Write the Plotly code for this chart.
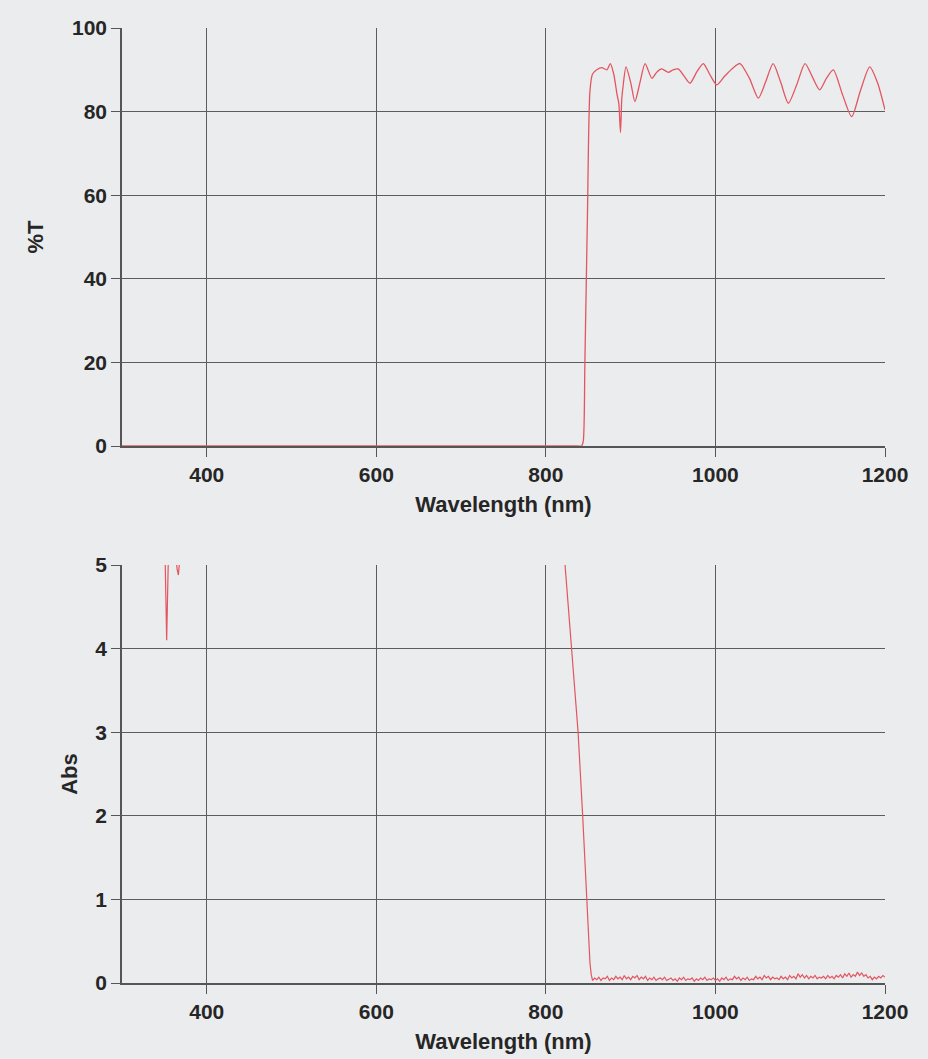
import plotly.graph_objects as go

# ---- Top panel: %T vs wavelength ----
wl_T = [300, 500, 700, 800, 830, 838, 842, 844, 846, 849, 852, 855, 860, 866, 872, 876, 880, 884, 886, 888, 889.5,
        891, 894.5, 900, 905, 911, 917, 925, 931, 936.6, 944.5, 950, 956, 963, 970, 978,
        985.7, 993, 1001.5, 1011, 1021, 1029, 1040, 1050.6, 1059, 1068, 1077, 1086, 1096,
        1105.7, 1115, 1123, 1131, 1139, 1150, 1160.7, 1171, 1182, 1191, 1200]
pct_T = [0, 0, 0, 0, 0, 0, 0, 1, 20, 55, 85, 89, 90, 90.5, 90, 91.5, 89, 84, 82, 75, 83,
         86, 90.7, 87, 82.4, 87, 91.5, 88, 89.5, 90.2, 89.4, 90, 90.2, 88.5, 86.8, 89.5,
         91.5, 89, 86.4, 88.5, 90.5, 91.5, 88, 83.2, 87, 91.5, 87, 82, 86.5,
         91.5, 88, 85.2, 88, 90, 84, 78.8, 85, 90.7, 87, 80.4]

# ---- Bottom panel: Abs vs wavelength (values above 5 are off scale) ----
wl_A_edge = [300, 348, 351, 352.7, 354.5, 357, 362, 365, 366.5, 368, 371, 820, 822.6, 830.5,
             838, 843.4, 848, 852, 853.5]
abs_edge = [6, 6, 5.0, 4.1, 5.0, 6, 5.3, 4.95, 4.88, 5.05, 6, 6, 5.0, 4.0,
            3.0, 2.0, 1.0, 0.24, 0.1]
# baseline noise read every 2.5 nm from 855 nm to 1200 nm
abs_baseline = [0.03, 0.06, 0.04, 0.07, 0.03, 0.06, 0.05, 0.08, 0.03, 0.06, 0.04, 0.08, 0.05, 0.07,
                0.04, 0.09, 0.05, 0.07, 0.04, 0.08, 0.06, 0.09, 0.04, 0.07, 0.05, 0.08, 0.03, 0.06,
                0.04, 0.07, 0.03, 0.05, 0.06, 0.04, 0.07, 0.03, 0.05, 0.06, 0.03, 0.05, 0.02, 0.06,
                0.04, 0.07, 0.03, 0.05, 0.04, 0.06, 0.02, 0.05, 0.03, 0.06, 0.04, 0.07, 0.03, 0.05,
                0.04, 0.06, 0.03, 0.05, 0.02, 0.06, 0.04, 0.07, 0.03, 0.05, 0.04, 0.08, 0.05, 0.07,
                0.03, 0.06, 0.04, 0.07, 0.03, 0.05, 0.04, 0.08, 0.05, 0.07, 0.04, 0.09, 0.06, 0.08,
                0.04, 0.07, 0.05, 0.06, 0.04, 0.08, 0.05, 0.07, 0.04, 0.09, 0.06, 0.08, 0.05, 0.11,
                0.07, 0.10, 0.06, 0.09, 0.05, 0.08, 0.06, 0.09, 0.05, 0.07, 0.06, 0.08, 0.05, 0.09,
                0.06, 0.08, 0.05, 0.09, 0.07, 0.10, 0.06, 0.11, 0.08, 0.12, 0.07, 0.10, 0.08, 0.13,
                0.09, 0.12, 0.08, 0.10, 0.06, 0.08, 0.04, 0.07, 0.05, 0.08, 0.06, 0.09, 0.07]
wl_A_baseline = [855 + 2.5 * i for i in range(len(abs_baseline))]

wl_A = wl_A_edge + wl_A_baseline
absorb = abs_edge + abs_baseline

x_ticks = [400, 600, 800, 1000, 1200]
T_ticks = [0, 20, 40, 60, 80, 100]
A_ticks = [0, 1, 2, 3, 4, 5]

LINE = "#e35560"
BG = "#ebecee"
GRID = "#5c5c5c"
FONT = dict(family="Liberation Sans, Arial, sans-serif", size=21, color="#262626", weight="bold")
TFONT = dict(family="Liberation Sans, Arial, sans-serif", size=22, color="#262626", weight="bold")

fig = go.Figure()
fig.add_trace(go.Scatter(x=wl_T, y=pct_T, mode="lines",
                         line=dict(color=LINE, width=1.3, shape="spline", smoothing=0.7),
                         xaxis="x", yaxis="y", showlegend=False))
fig.add_trace(go.Scatter(x=wl_A, y=absorb, mode="lines", line=dict(color=LINE, width=1.2),
                         xaxis="x2", yaxis="y2", showlegend=False))

W, H = 928, 1059
xdom = [122 / W, 885 / W]
ax_common = dict(showgrid=True, gridcolor=GRID, gridwidth=1.2, showline=True, linecolor="#555",
                 linewidth=1.5, ticks="outside", ticklen=9, tickcolor="#555", tickwidth=1.2,
                 zeroline=False, tickfont=FONT, automargin=False)

fig.update_layout(
    width=W, height=H,
    margin=dict(l=0, r=0, t=0, b=0),
    paper_bgcolor=BG, plot_bgcolor=BG,
    xaxis=dict(domain=xdom, range=[300, 1200], tickvals=x_ticks, anchor="y",
               title=dict(text="Wavelength (nm)", font=TFONT, standoff=12), **ax_common),
    yaxis=dict(domain=[1 - 446 / H, 1 - 28 / H], range=[0, 100], tickvals=T_ticks, anchor="x",
               title=dict(text="%T", font=TFONT, standoff=22), **ax_common),
    xaxis2=dict(domain=xdom, range=[300, 1200], tickvals=x_ticks, anchor="y2",
                title=dict(text="Wavelength (nm)", font=TFONT, standoff=12), **ax_common),
    yaxis2=dict(domain=[1 - 983 / H, 1 - 565 / H], range=[0, 5], tickvals=A_ticks, anchor="x2",
                title=dict(text="Abs", font=TFONT, standoff=12), **ax_common),
)

fig.write_html("out.html", config={"displayModeBar": False},
               post_script="document.body.style.margin='0';document.body.style.background='%s';" % BG)
